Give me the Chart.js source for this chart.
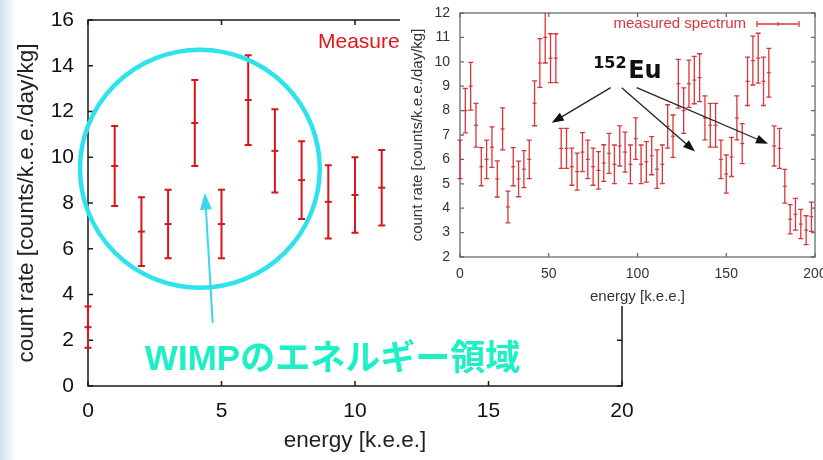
<!DOCTYPE html>
<html>
<head>
<meta charset="utf-8">
<script src="https://cdn.jsdelivr.net/npm/chart.js@4.4.0/dist/chart.umd.min.js"></script>
<style>
  html, body { margin: 0; padding: 0; background: #fff; }
  #wrap { position: relative; width: 823px; height: 460px; overflow: hidden; background: #fff; }
  #edge { position: absolute; left: 0; top: 0; width: 16px; height: 460px; background: linear-gradient(to right, #d3e0ea, #fff); }
  #mainChart { position: absolute; left: 0; top: 0; }
  #insetBox { position: absolute; left: 400px; top: 0; width: 423px; height: 306px; background: #fff; }
</style>
</head>
<body>
<div id="wrap">
  <div id="edge"></div>
  <canvas id="mainChart" width="823" height="460"></canvas>
  <div id="insetBox"><canvas id="insetChart" width="423" height="306"></canvas></div>
</div>
<script>
// Low energy region (left plot), 1 keV bins
const leftEnergy = [0, 1, 2, 3, 4, 5, 6, 7, 8, 9, 10, 11];
const leftRate = [2.57, 9.62, 6.75, 7.08, 11.5, 7.08, 12.5, 10.28, 9.0, 8.05, 8.35, 8.67];
const leftErr = [0.9, 1.75, 1.5, 1.5, 1.88, 1.5, 1.96, 1.82, 1.7, 1.6, 1.65, 1.65];

// Full spectrum (inset), 3 keV bins
const rightEnergy = [0, 3, 6, 9, 12, 15, 18, 21, 24, 27, 30, 33, 36, 39, 42, 45, 48, 51, 54, 57,
  60, 63, 66, 69, 72, 75, 78, 81, 84, 87, 90, 93, 96, 99, 102, 105, 108, 111, 114, 117,
  120, 123, 126, 129, 132, 135, 138, 141, 144, 147, 150, 153, 156, 159, 162, 165, 168, 171, 174, 177,
  180, 183, 186, 189, 192, 195, 198];
const rightRate = [6.0, 8.0, 9.0, 7.4, 5.7, 6.0, 6.5, 5.2, 7.25, 4.05, 5.7, 5.2, 5.6, 6.0, 8.3, 9.95, 11.0, 10.15, 10.15, 6.45,
  6.45, 5.7, 5.5, 6.3, 6.0, 5.7, 5.55, 5.85, 6.25, 5.8, 6.55, 6.3, 5.8, 6.85, 5.8, 5.9, 6.15, 5.6, 5.8, 7.35,
  6.95, 9.1, 8.0, 9.1, 9.25, 9.35, 7.7, 7.4, 7.4, 6.0, 5.4, 6.1, 7.7, 6.65, 9.2, 10.05, 10.15, 9.2, 9.55, 6.55,
  6.45, 4.9, 3.55, 3.75, 3.35, 3.1, 3.65];
const rightErr = [0.79, 0.91, 0.98, 0.9, 0.78, 0.79, 0.83, 0.74, 0.86, 0.65, 0.78, 0.73, 0.76, 0.79, 0.92, 1.0, 1.05, 1.0, 1.0, 0.82,
  0.82, 0.76, 0.76, 0.8, 0.79, 0.76, 0.77, 0.75, 0.82, 0.79, 0.82, 0.82, 0.79, 0.85, 0.79, 0.83, 0.78, 0.79, 0.79, 0.89,
  0.87, 1.0, 0.93, 0.97, 0.97, 0.98, 0.9, 0.9, 0.9, 0.79, 0.78, 0.8, 0.9, 0.82, 0.99, 1.0, 1.02, 0.99, 1.0, 0.82,
  0.82, 0.69, 0.6, 0.65, 0.6, 0.59, 0.6];

const leftXTicks = [0, 20, 5];   // min, max, step
const leftYTicks = [0, 16, 2];
const rightXTicks = [0, 200, 50];
const rightYTicks = [2, 12, 1];

const sans = 'Liberation Sans, Arial, sans-serif';

function arrow(ctx, x1, y1, x2, y2, len, half) {
  const ang = Math.atan2(y2 - y1, x2 - x1);
  ctx.beginPath();
  ctx.moveTo(x1, y1);
  ctx.lineTo(x2 - Math.cos(ang) * len * 0.8, y2 - Math.sin(ang) * len * 0.8);
  ctx.stroke();
  ctx.beginPath();
  ctx.moveTo(x2, y2);
  ctx.lineTo(x2 - Math.cos(ang) * len - Math.sin(ang) * half, y2 - Math.sin(ang) * len + Math.cos(ang) * half);
  ctx.lineTo(x2 - Math.cos(ang) * len + Math.sin(ang) * half, y2 - Math.sin(ang) * len - Math.cos(ang) * half);
  ctx.closePath();
  ctx.fill();
}

// gnuplot style box with inward ticks on all sides
const frame = {
  id: 'frame',
  beforeDatasetsDraw(chart, args, opts) {
    const {ctx, chartArea: a, scales: {x, y}} = chart;
    ctx.save();
    ctx.strokeStyle = opts.color;
    ctx.lineWidth = opts.width;
    ctx.strokeRect(a.left, a.top, a.right - a.left, a.bottom - a.top);
    ctx.beginPath();
    x.ticks.forEach(t => {
      const px = x.getPixelForValue(t.value);
      ctx.moveTo(px, a.bottom); ctx.lineTo(px, a.bottom - opts.tick);
      ctx.moveTo(px, a.top); ctx.lineTo(px, a.top + opts.tick);
    });
    y.ticks.forEach(t => {
      const py = y.getPixelForValue(t.value);
      ctx.moveTo(a.left, py); ctx.lineTo(a.left + opts.tick, py);
      ctx.moveTo(a.right, py); ctx.lineTo(a.right - opts.tick, py);
    });
    ctx.stroke();
    ctx.restore();
  }
};

const errorBars = {
  id: 'errorBars',
  afterDatasetsDraw(chart, args, opts) {
    const {ctx, chartArea: a, scales: {x, y}} = chart;
    ctx.save();
    if (opts.clip) {
      ctx.beginPath();
      ctx.rect(a.left - 10, a.top, a.right - a.left + 20, a.bottom - a.top);
      ctx.clip();
    }
    chart.data.datasets.forEach(ds => {
      if (!ds.errors) return;
      ctx.strokeStyle = ds.borderColor;
      ctx.lineWidth = opts.width;
      ds.data.forEach((p, i) => {
        const px = x.getPixelForValue(p.x);
        const top = y.getPixelForValue(p.y + ds.errors[i]);
        const bot = y.getPixelForValue(p.y - ds.errors[i]);
        ctx.beginPath();
        ctx.moveTo(px, top); ctx.lineTo(px, bot);
        ctx.moveTo(px - opts.cap, top); ctx.lineTo(px + opts.cap, top);
        ctx.moveTo(px - opts.cap, bot); ctx.lineTo(px + opts.cap, bot);
        ctx.stroke();
      });
    });
    ctx.restore();
  }
};

// cyan circle, arrow and label on the low energy plot
const wimpNotes = {
  id: 'wimpNotes',
  afterDraw(chart) {
    const {ctx, chartArea: a, scales: {x, y}} = chart;
    ctx.save();
    // legend (mostly hidden under the inset)
    ctx.fillStyle = '#e0161c';
    ctx.font = '21px ' + sans;
    ctx.fillText('Measured spectrum', a.left + 230, a.top + 28);

    const cx = x.getPixelForValue(4.19), cy = y.getPixelForValue(9.5);
    const rx = x.getPixelForValue(4.19 + 4.49) - cx;
    const ry = cy - y.getPixelForValue(9.5 + 5.2);
    ctx.strokeStyle = '#2fe3ec';
    ctx.lineWidth = 4.5;
    ctx.beginPath();
    ctx.ellipse(cx, cy, rx, ry, 0, 0, Math.PI * 2);
    ctx.stroke();

    ctx.strokeStyle = '#3ad6ee';
    ctx.fillStyle = '#3ad6ee';
    ctx.lineWidth = 2;
    arrow(ctx, x.getPixelForValue(4.67), y.getPixelForValue(2.76),
      x.getPixelForValue(4.38), y.getPixelForValue(8.45), 17, 6);

    ctx.fillStyle = '#1eefc6';
    ctx.font = 'bold 35px Liberation Sans, "Noto Sans CJK JP", sans-serif';
    ctx.fillText('WIMPのエネルギー領域', x.getPixelForValue(2.13), y.getPixelForValue(0.7));
    ctx.restore();
  }
};

// 152Eu label, arrows and legend on the inset
const euNotes = {
  id: 'euNotes',
  afterDraw(chart) {
    const {ctx, chartArea: a, scales: {x, y}} = chart;
    ctx.save();
    ctx.fillStyle = '#d8363a';
    ctx.font = '15px ' + sans;
    ctx.textAlign = 'right';
    ctx.fillText('measured spectrum', a.right - 69, a.top + 15);
    ctx.strokeStyle = '#d8363a';
    ctx.lineWidth = 1.3;
    ctx.beginPath();
    const ly = a.top + 11;
    ctx.moveTo(a.right - 58, ly); ctx.lineTo(a.right - 16, ly);
    ctx.moveTo(a.right - 58, ly - 3); ctx.lineTo(a.right - 58, ly + 3);
    ctx.moveTo(a.right - 16, ly - 3); ctx.lineTo(a.right - 16, ly + 3);
    ctx.moveTo(a.right - 37, ly - 2); ctx.lineTo(a.right - 37, ly + 2);
    ctx.stroke();

    const lx = x.getPixelForValue(75), lb = y.getPixelForValue(9.35);
    ctx.textAlign = 'left';
    ctx.fillStyle = '#111';
    ctx.font = 'bold 16px DejaVu Sans, sans-serif';
    ctx.fillText('152', lx, lb - 10);
    ctx.font = 'bold 24px DejaVu Sans, sans-serif';
    ctx.fillText('Eu', lx + 35, lb);

    ctx.strokeStyle = '#222';
    ctx.fillStyle = '#111';
    ctx.lineWidth = 1.3;
    const arrows = [[84.9, 8.94, 51.7, 7.5], [91.1, 8.94, 132.4, 6.32], [99.5, 8.94, 173.5, 6.64]];
    arrows.forEach(([e1, v1, e2, v2]) => {
      arrow(ctx, x.getPixelForValue(e1), y.getPixelForValue(v1),
        x.getPixelForValue(e2), y.getPixelForValue(v2), 12, 4.5);
    });
    ctx.restore();
  }
};

const leftColor = '#d9141b';
const mainChart = new Chart(document.getElementById('mainChart'), {
  type: 'scatter',
  data: {
    datasets: [{
      data: leftEnergy.map((e, i) => ({x: e, y: leftRate[i]})),
      errors: leftErr,
      borderColor: leftColor,
      pointBorderColor: leftColor,
      pointStyle: 'line',
      pointRadius: 3.5,
      pointBorderWidth: 2,
      clip: false
    }]
  },
  options: {
    responsive: false,
    animation: false,
    layout: { padding: { left: 0, right: 201, top: 20, bottom: 0 } },
    plugins: {
      legend: { display: false },
      tooltip: { enabled: false },
      frame: { color: '#1a1a1a', width: 1.5, tick: 5 },
      errorBars: { width: 2, cap: 3.5, clip: false }
    },
    scales: {
      x: {
        type: 'linear', min: leftXTicks[0], max: leftXTicks[1],
        afterFit: s => { s.height = 74; },
        grid: { display: false }, border: { display: false },
        ticks: { stepSize: leftXTicks[2], padding: 5, color: '#111', font: { family: sans, size: 21 } },
        title: { display: true, text: 'energy [k.e.e.]', color: '#222', font: { family: sans, size: 22.5 }, padding: { top: 0, bottom: 6 } }
      },
      y: {
        min: leftYTicks[0], max: leftYTicks[1],
        afterFit: s => { s.width = 88; },
        grid: { display: false }, border: { display: false },
        ticks: { stepSize: leftYTicks[2], padding: 6, color: '#111', font: { family: sans, size: 21 } },
        title: { display: true, text: 'count rate [counts/k.e.e./day/kg]', color: '#222', font: { family: sans, size: 22.5 }, padding: { top: 13, bottom: 0 } }
      }
    }
  },
  plugins: [frame, errorBars, wimpNotes]
});

const rightColor = '#d8363a';
const insetChart = new Chart(document.getElementById('insetChart'), {
  type: 'scatter',
  data: {
    datasets: [{
      data: rightEnergy.map((e, i) => ({x: e, y: rightRate[i]})),
      errors: rightErr,
      borderColor: rightColor,
      pointBorderColor: rightColor,
      pointStyle: 'line',
      pointRadius: 2,
      pointBorderWidth: 1.2
    }]
  },
  options: {
    responsive: false,
    animation: false,
    layout: { padding: { left: 0, right: 8, top: 13, bottom: 0 } },
    plugins: {
      legend: { display: false },
      tooltip: { enabled: false },
      frame: { color: '#6a6a6a', width: 1.3, tick: 4 },
      errorBars: { width: 1.3, cap: 2.5, clip: true }
    },
    scales: {
      x: {
        type: 'linear', min: rightXTicks[0], max: rightXTicks[1],
        afterFit: s => { s.height = 49; s.paddingLeft = 0; s.paddingRight = 0; },
        grid: { display: false }, border: { display: false },
        ticks: { stepSize: rightXTicks[2], padding: 1, color: '#333', font: { family: sans, size: 14 } },
        title: { display: true, text: 'energy [k.e.e.]', color: '#333', font: { family: sans, size: 15 }, padding: { top: 0, bottom: 0 } }
      },
      y: {
        min: rightYTicks[0], max: rightYTicks[1],
        afterFit: s => { s.width = 60; s.paddingTop = 0; s.paddingBottom = 0; },
        grid: { display: false }, border: { display: false },
        ticks: { stepSize: rightYTicks[2], padding: 2, color: '#333', font: { family: sans, size: 14 } },
        title: { display: true, text: 'count rate [counts/k.e.e./day/kg]', color: '#333', font: { family: sans, size: 15 }, padding: { top: 9, bottom: 0 } }
      }
    }
  },
  plugins: [frame, errorBars, euNotes]
});
</script>
</body>
</html>
